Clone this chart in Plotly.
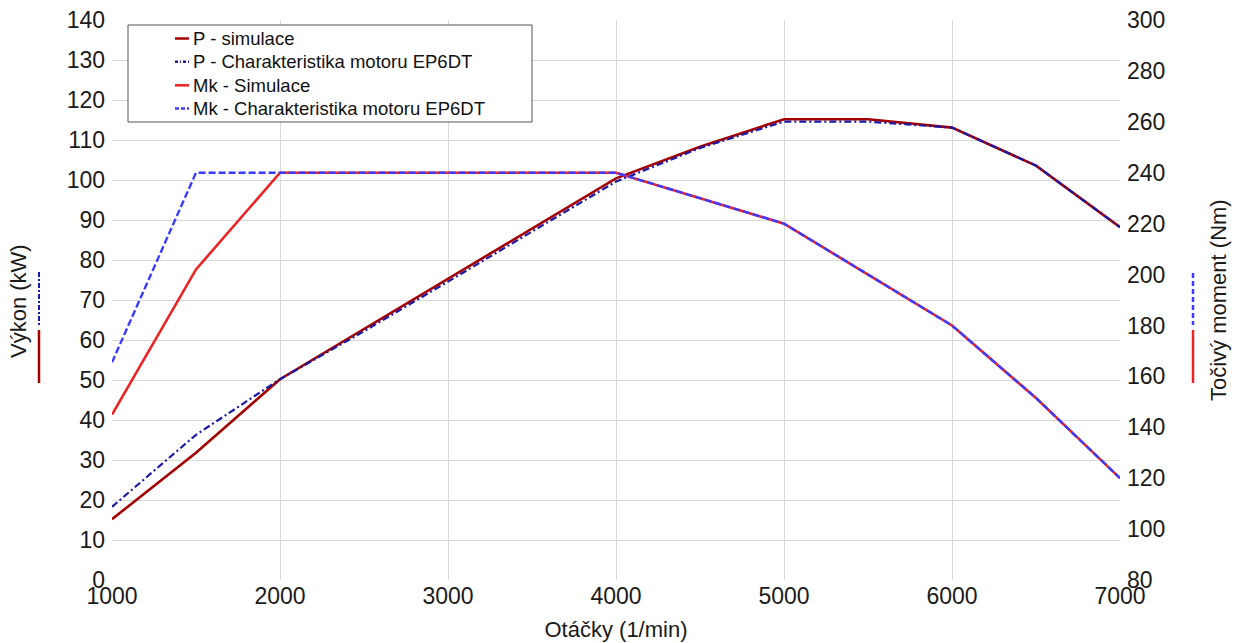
import plotly.graph_objects as go

# Engine speed (1/min)
rpm = [1000, 1500, 2000, 2500, 3000, 3500, 4000, 4500, 5000, 5500, 6000, 6500, 7000]

# Power (kW)
p_sim = [15.2, 31.8, 50.2, 62.8, 75.4, 88.0, 100.4, 108.3, 115.2, 115.2, 113.1, 103.6, 88.2]
p_char = [18.3, 36.3, 50.2, 62.2, 74.6, 87.0, 99.6, 108.0, 114.6, 114.6, 113.1, 103.6, 88.2]

# Torque (Nm)
mk_sim = [145, 202, 240, 240, 240, 240, 240, 230, 220, 200, 180, 151.5, 120]
mk_char = [165.5, 240, 240, 240, 240, 240, 240, 230, 220, 200, 180, 151.5, 120]

names = ["P - simulace", "P - Charakteristika motoru EP6DT",
         "Mk - Simulace", "Mk - Charakteristika motoru EP6DT"]

C_PSIM = "#a50000"
C_PCHAR = "#1a1aa6"
C_MKSIM = "#ee2222"
C_MKCHAR = "#3b3bff"

styles = [
    dict(color=C_PSIM, width=2.6, dash="solid"),
    dict(color=C_PCHAR, width=2.2, dash="7px,3px,2px,3px"),
    dict(color=C_MKSIM, width=2.6, dash="solid"),
    dict(color=C_MKCHAR, width=2.4, dash="7px,3px"),
]

W, H = 1234, 643
L, R, T, B = 112, 114, 20, 63
PW, PH = W - L - R, H - T - B

def px(x):
    return (x - L) / PW

def py(y):
    return (H - B - y) / PH

FONT = "Liberation Sans, Arial, sans-serif"
TXT = "#1a1a1a"

fig = go.Figure()
series = [(p_sim, "y"), (p_char, "y"), (mk_sim, "y2"), (mk_char, "y2")]
for (vals, ax), name, st in zip(series, names, styles):
    fig.add_trace(go.Scatter(x=rpm, y=vals, name=name, mode="lines",
                             line=st, yaxis=ax, showlegend=False))

grid = "#d9d9d9"
tick_font = dict(family=FONT, size=23, color=TXT)

shapes = [
    # legend frame
    dict(type="rect", xref="paper", yref="paper",
         x0=px(128), x1=px(532), y0=py(122), y1=py(25),
         line=dict(color="#555555", width=1), fillcolor="white", layer="above"),
    # series keys next to the axis titles
    dict(type="line", xref="paper", yref="paper", x0=px(39), x1=px(39),
         y0=py(272), y1=py(325), line=dict(color=C_PCHAR, width=2, dash="5px,2px,2px,2px")),
    dict(type="line", xref="paper", yref="paper", x0=px(39), x1=px(39),
         y0=py(330), y1=py(383), line=dict(color=C_PSIM, width=2.5)),
    dict(type="line", xref="paper", yref="paper", x0=px(1193), x1=px(1193),
         y0=py(273), y1=py(325), line=dict(color=C_MKCHAR, width=2.5, dash="5px,3px")),
    dict(type="line", xref="paper", yref="paper", x0=px(1193), x1=px(1193),
         y0=py(330), y1=py(383), line=dict(color=C_MKSIM, width=2.5)),
]

annotations = [
    dict(text="Výkon (kW)", xref="paper", yref="paper", x=px(18), y=py(301),
         textangle=-90, showarrow=False, xanchor="center", yanchor="middle",
         font=dict(family=FONT, size=22, color=TXT)),
    dict(text="Točivý moment (Nm)", xref="paper", yref="paper", x=px(1218), y=py(300),
         textangle=-90, showarrow=False, xanchor="center", yanchor="middle",
         font=dict(family=FONT, size=22, color=TXT)),
]

# legend rows: short line key followed by the series name
row_y = [38.5, 61.8, 85.3, 108.6]
for name, st, ry in zip(names, styles, row_y):
    key_dash = {"solid": "solid", "7px,3px": "4px,2px",
                "7px,3px,2px,3px": "3px,2px,1px,2px"}[st["dash"]]
    shapes.append(dict(type="line", xref="paper", yref="paper",
                       x0=px(175), x1=px(189), y0=py(ry), y1=py(ry),
                       line=dict(color=st["color"], width=2.5, dash=key_dash),
                       layer="above"))
    annotations.append(dict(text=name, xref="paper", yref="paper",
                            x=px(191), y=py(ry), xanchor="left", yanchor="middle",
                            showarrow=False,
                            font=dict(family=FONT, size=18.5, color="#111111")))

fig.update_layout(
    width=W, height=H,
    margin=dict(l=L, r=R, t=T, b=B, pad=0, autoexpand=False),
    paper_bgcolor="white", plot_bgcolor="white",
    font=dict(family=FONT, color=TXT),
    showlegend=False,
    xaxis=dict(range=[1000, 7000], dtick=1000, tick0=1000, showgrid=True,
               gridcolor=grid, gridwidth=1, zeroline=False, showline=False,
               ticks="", tickfont=tick_font, automargin=False,
               title=dict(text="Otáčky (1/min)", standoff=13,
                          font=dict(family=FONT, size=22, color=TXT))),
    yaxis=dict(range=[0, 140], dtick=10, tick0=0, showgrid=True,
               gridcolor=grid, gridwidth=1, zeroline=False, showline=False,
               ticks="", tickfont=tick_font, ticklabelstandoff=6, automargin=False),
    yaxis2=dict(range=[80, 300], dtick=20, tick0=80, overlaying="y", side="right",
                showgrid=False, zeroline=False, showline=False, ticks="",
                tickfont=tick_font, ticklabelstandoff=6, automargin=False),
    shapes=shapes,
    annotations=annotations,
)

fig.write_html("out.html")
